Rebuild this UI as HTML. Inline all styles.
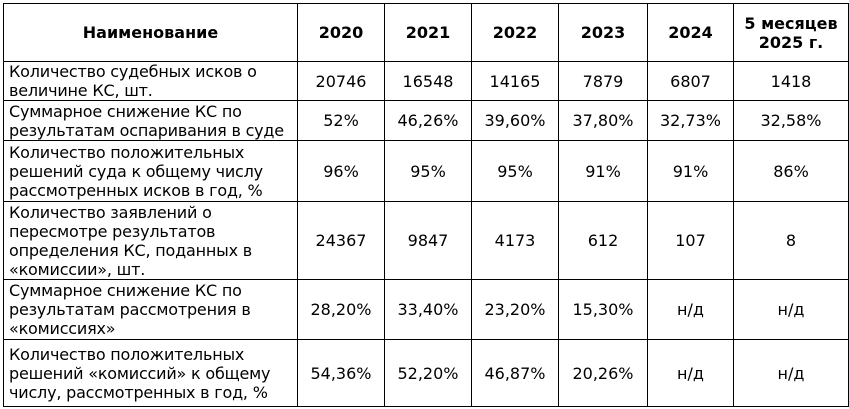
<!DOCTYPE html>
<html><head><meta charset="utf-8"><style>
body{margin:0;width:849px;height:409px;background:#fff;position:relative;overflow:hidden;font-family:"DejaVu Sans","Liberation Sans",sans-serif;font-size:16px;color:#000}
table{position:absolute;left:3px;top:3px;border-collapse:collapse;table-layout:fixed}
td{border:1.5px solid #000;padding:0 2px;line-height:19px;text-align:center;vertical-align:middle;overflow:hidden}
td.n{text-align:left;padding-left:5px;padding-right:0;letter-spacing:-0.2px;white-space:nowrap}
th{border:1.5px solid #000;font-weight:bold;font-size:16px;line-height:19px}
</style></head><body>
<table>
<colgroup><col style="width:294px"><col style="width:87px"><col style="width:87px"><col style="width:87px"><col style="width:89px"><col style="width:86px"><col style="width:115px"></colgroup>
<tr style="height:58px"><th>Наименование</th><th>2020</th><th>2021</th><th>2022</th><th>2023</th><th>2024</th><th>5 месяцев<br>2025 г.</th></tr>
<tr style="height:38px"><td class="n">Количество судебных исков о<br>величине КС, шт.</td><td>20746</td><td>16548</td><td>14165</td><td>7879</td><td>6807</td><td>1418</td></tr>
<tr style="height:40px"><td class="n">Суммарное снижение КС по<br>результатам оспаривания в суде</td><td>52%</td><td>46,26%</td><td>39,60%</td><td>37,80%</td><td>32,73%</td><td>32,58%</td></tr>
<tr style="height:61px"><td class="n">Количество положительных<br>решений суда к общему числу<br>рассмотренных исков в год, %</td><td>96%</td><td>95%</td><td>95%</td><td>91%</td><td>91%</td><td>86%</td></tr>
<tr style="height:78px"><td class="n">Количество заявлений о<br>пересмотре результатов<br>определения КС, поданных в<br>«комиссии», шт.</td><td>24367</td><td>9847</td><td>4173</td><td>612</td><td>107</td><td>8</td></tr>
<tr style="height:60px"><td class="n">Суммарное снижение КС по<br>результатам рассмотрения в<br>«комиссиях»</td><td>28,20%</td><td>33,40%</td><td>23,20%</td><td>15,30%</td><td>н/д</td><td>н/д</td></tr>
<tr style="height:67px"><td class="n">Количество положительных<br>решений «комиссий» к общему<br>числу, рассмотренных в год, %</td><td>54,36%</td><td>52,20%</td><td>46,87%</td><td>20,26%</td><td>н/д</td><td>н/д</td></tr>
</table>
</body></html>
